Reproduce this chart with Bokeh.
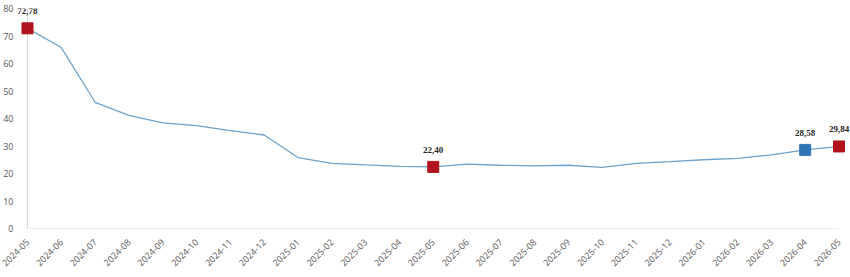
import math
from bokeh.plotting import figure
from bokeh.models import ColumnDataSource, FixedTicker, Span, LabelSet, Range1d
from bokeh.embed import file_html
from bokeh.resources import INLINE

months = ["2024-05", "2024-06", "2024-07", "2024-08", "2024-09", "2024-10", "2024-11",
          "2024-12", "2025-01", "2025-02", "2025-03", "2025-04", "2025-05", "2025-06",
          "2025-07", "2025-08", "2025-09", "2025-10", "2025-11", "2025-12", "2026-01",
          "2026-02", "2026-03", "2026-04", "2026-05"]
values = [72.78, 65.8, 45.9, 41.1, 38.4, 37.4, 35.6, 34.0, 25.8, 23.7, 23.1, 22.6, 22.40,
          23.4, 23.0, 22.8, 23.0, 22.2, 23.7, 24.3, 25.0, 25.5, 26.8, 28.58, 29.84]
highlight_months = ["2024-05", "2025-05", "2026-04", "2026-05"]
highlight_labels = ["72,78", "22,40", "28,58", "29,84"]
highlight_kind = ["red", "red", "blue", "red"]
y_ticks = [0, 10, 20, 30, 40, 50, 60, 70, 80]

RED = "#B2121C"
BLUE = "#2E75B6"
LINE = "#6FA3CB"
GREY = "#595959"
AXIS = "#D9D9D9"

xs = list(range(len(months)))
hx = [months.index(m) for m in highlight_months]
hy = [values[i] for i in hx]
hc = [RED if k == "red" else BLUE for k in highlight_kind]

p = figure(width=850, height=277, output_backend="svg", toolbar_location=None,
           x_range=Range1d(-0.325, 24.34), y_range=Range1d(0, 80),
           min_border_left=14, min_border_right=0, min_border_top=8, min_border_bottom=49)
p.outline_line_color = None
p.background_fill_color = "white"
p.border_fill_color = "white"
p.xgrid.visible = False
p.ygrid.visible = False

# axes
p.xaxis.ticker = FixedTicker(ticks=xs)
p.xaxis.major_label_overrides = {i: m for i, m in enumerate(months)}
p.xaxis.major_label_orientation = math.pi / 4
p.yaxis.ticker = FixedTicker(ticks=y_ticks)
for ax in (p.xaxis, p.yaxis):
    ax.axis_line_color = None
    ax.major_tick_line_color = None
    ax.minor_tick_line_color = None
    ax.major_label_text_color = GREY
    ax.major_label_text_font = "Open Sans"
    ax.major_label_text_font_size = "9px"
p.yaxis.major_label_standoff = -3
p.xaxis.major_label_standoff = 6

p.add_layout(Span(location=0, dimension="height", line_color=AXIS, line_width=1,
                  level="underlay"))
p.segment(x0=[xs[0]], y0=[0], x1=[xs[-1]], y1=[0], line_color=AXIS, line_width=1,
          level="underlay")

p.line(xs, values, line_color=LINE, line_width=1.3)

src = ColumnDataSource(dict(x=hx, y=hy, c=hc, t=highlight_labels))
p.scatter("x", "y", source=src, marker="square", size=11, fill_color="c",
          line_color="c")
p.add_layout(LabelSet(x="x", y="y", text="t", source=src, y_offset=17,
                      text_align="center", text_baseline="middle", text_font="Open Sans",
                      text_font_size="9px", text_font_style="bold", text_color="#262626"))

open("out.html", "w").write(file_html(p, INLINE))
